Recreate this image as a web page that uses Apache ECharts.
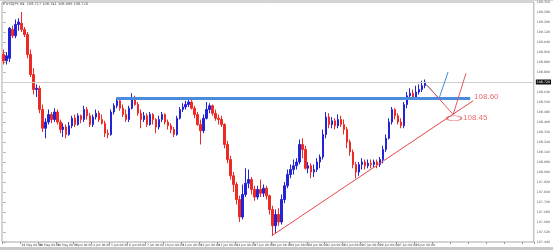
<!DOCTYPE html>
<html>
<head>
<meta charset="utf-8">
<script src="https://cdn.jsdelivr.net/npm/echarts@6/dist/echarts.min.js"></script>
<style>html,body{margin:0;padding:0;background:#fff}#c{width:553px;height:250px}</style>
</head>
<body>
<div id="c"></div>
<script>
// USDJPY H4 candles
const open = [108.94,108.89,108.91,109.14,109.09,109.18,109.19,109.14,109.10,108.94,
108.78,108.66,108.67,108.50,108.35,108.40,108.46,108.42,108.48,108.40,
108.34,108.36,108.30,108.37,108.43,108.38,108.45,108.42,108.50,108.45,
108.38,108.44,108.47,108.42,108.39,108.31,108.30,108.48,108.53,108.57,
108.51,108.46,108.42,108.51,108.58,108.54,108.47,108.42,108.45,108.38,
108.46,108.42,108.36,108.42,108.46,108.40,108.37,108.34,108.30,108.43,
108.50,108.52,108.54,108.56,108.51,108.46,108.38,108.33,108.43,108.50,
108.53,108.47,108.43,108.42,108.38,108.22,108.10,107.97,107.90,107.78,
107.64,107.82,107.91,107.94,107.86,107.80,107.86,107.83,107.87,107.81,
107.70,107.57,107.66,107.60,107.78,107.89,107.98,108.02,108.05,108.08,
108.22,108.18,108.03,108.05,108.00,108.02,108.08,108.12,108.30,108.44,
108.38,108.41,108.37,108.42,108.38,108.34,108.24,108.16,108.06,108.00,
108.06,108.08,108.05,108.07,108.06,108.08,108.06,108.10,108.18,108.27,
108.40,108.50,108.45,108.40,108.37,108.54,108.61,108.63,108.60,108.64,
108.66,108.69];
const close = [108.89,108.93,109.15,109.09,109.18,109.20,109.14,109.10,108.94,108.78,
108.66,108.67,108.50,108.35,108.40,108.46,108.42,108.48,108.40,108.34,
108.36,108.30,108.37,108.43,108.38,108.45,108.42,108.50,108.45,108.38,
108.44,108.47,108.42,108.39,108.31,108.30,108.48,108.53,108.57,108.51,
108.46,108.42,108.51,108.58,108.54,108.47,108.42,108.45,108.38,108.46,
108.42,108.36,108.42,108.46,108.40,108.37,108.34,108.30,108.43,108.50,
108.52,108.54,108.56,108.51,108.46,108.38,108.33,108.43,108.50,108.53,
108.47,108.43,108.42,108.38,108.22,108.10,107.97,107.90,107.78,107.64,
107.82,107.91,107.94,107.86,107.80,107.86,107.83,107.87,107.81,107.70,
107.57,107.66,107.60,107.78,107.89,107.98,108.02,108.05,108.08,108.22,
108.18,108.03,108.05,108.00,108.02,108.08,108.12,108.30,108.44,108.38,
108.41,108.37,108.42,108.38,108.34,108.24,108.16,108.06,108.00,108.06,
108.08,108.05,108.07,108.06,108.08,108.06,108.10,108.18,108.27,108.40,
108.50,108.45,108.40,108.37,108.54,108.61,108.63,108.60,108.64,108.66,
108.69,108.72];
const low = [108.86,108.86,108.88,109.07,109.07,109.13,109.12,109.08,108.91,108.76,
108.62,108.60,108.47,108.32,108.27,108.38,108.39,108.40,108.38,108.31,
108.28,108.27,108.29,108.35,108.36,108.37,108.39,108.40,108.42,108.36,
108.36,108.42,108.40,108.38,108.28,108.27,108.29,108.46,108.51,108.49,
108.44,108.40,108.40,108.50,108.53,108.45,108.35,108.40,108.36,108.37,
108.38,108.31,108.34,108.40,108.38,108.34,108.31,108.28,108.29,108.42,
108.48,108.50,108.52,108.50,108.43,108.37,108.22,108.31,108.42,108.47,
108.45,108.41,108.38,108.36,108.19,108.07,107.94,107.84,107.74,107.60,
107.62,107.80,107.87,107.82,107.77,107.78,107.80,107.80,107.78,107.66,
107.49,107.51,107.57,107.58,107.75,107.87,107.95,107.98,108.02,108.06,
108.11,108.02,107.99,107.95,107.96,108.00,108.03,108.10,108.27,108.35,
108.35,108.34,108.35,108.36,108.30,108.19,108.13,108.03,107.95,107.97,
108.02,108.02,108.03,108.03,108.04,108.03,108.04,108.07,108.16,108.26,
108.38,108.42,108.38,108.35,108.35,108.51,108.58,108.58,108.58,108.62,
108.64,108.67];
const high = [108.98,108.96,109.16,109.17,109.22,109.23,109.28,109.16,109.12,108.98,
108.83,108.70,108.69,108.54,108.43,108.50,108.48,108.51,108.50,108.42,
108.39,108.38,108.40,108.45,108.46,108.47,108.46,108.53,108.52,108.47,
108.46,108.50,108.49,108.46,108.41,108.34,108.50,108.55,108.59,108.58,
108.54,108.50,108.53,108.63,108.61,108.56,108.50,108.48,108.47,108.48,
108.47,108.43,108.45,108.48,108.47,108.42,108.39,108.36,108.45,108.52,
108.55,108.57,108.58,108.59,108.53,108.48,108.42,108.46,108.56,108.55,
108.54,108.50,108.46,108.45,108.39,108.25,108.13,108.00,107.92,107.81,
107.90,108.03,108.02,107.96,107.89,107.89,107.94,107.90,107.89,107.82,
107.73,107.70,107.71,107.82,107.92,108.02,108.06,108.10,108.11,108.26,
108.27,108.21,108.08,108.07,108.06,108.11,108.14,108.34,108.48,108.47,
108.44,108.43,108.46,108.45,108.42,108.36,108.26,108.18,108.08,108.08,
108.11,108.10,108.10,108.10,108.10,108.10,108.12,108.21,108.30,108.43,
108.52,108.51,108.47,108.43,108.56,108.64,108.67,108.66,108.69,108.70,
108.73,108.74];

// time-axis tick labels (one per 6 bars)
const tickLabels = ["28 May 2019","29 May 08:00","30 May 08:00","31 May 08:00","3 Jun 08:00","4 Jun 08:00",
"5 Jun 08:00","6 Jun 08:00","7 Jun 08:00","10 Jun 08:00","11 Jun 08:00","12 Jun 08:00",
"13 Jun 08:00","14 Jun 08:00","17 Jun 08:00","18 Jun 08:00","19 Jun 08:00","20 Jun 08:00",
"21 Jun 08:00","24 Jun 08:00","25 Jun 08:00","26 Jun 08:00","27 Jun 08:00","28 Jun 08:00"];
const barsPerLabel = 6;
const emptyBarsRight = 36;

// price axis
const priceMin = 107.44, priceMax = 109.36, priceStep = 0.08;
const lastPrice = 108.72;

// drawn annotations, in (bar index, price)
const resistanceLine = [[37.8, 108.59], [156.2, 108.59]];
const trendLine = [[89.8, 107.49], [157.2, 108.57]];
const blueArrow = [[141.5, 108.70], [145.8, 108.59], [148.8, 108.80]];
const redArrow = [[141.5, 108.70], [150.5, 108.46], [154.8, 108.79]];
const ellipsePoint = [150.8, 108.43];
const noteTexts = ["108.60", "108.45"];
const notePoints = [[157.5, 108.60], [153.8, 108.43]];

const totalBars = open.length + emptyBarsRight;
const categories = Array.from({length: totalBars}, (_, i) => i);
const candles = open.map((o, i) => [o, close[i], low[i], high[i]]);
while (candles.length < totalBars) candles.push('-');

const chart = echarts.init(document.getElementById('c'), null, {renderer: 'canvas'});
const RED = '#ee2a24', BLUE = '#2323d8', NOTE = '#e2474a';
chart.setOption({
  animation: false,
  backgroundColor: '#fff',
  grid: {left: 2, right: 16, top: 2, bottom: 8, show: true, borderColor: '#a8a8a8', borderWidth: 1},
  graphic: [
    {type: 'rect', shape: {x: 0, y: 247, width: 553, height: 3}, style: {fill: '#c9c9c9'}},
    {type: 'rect', shape: {x: 0, y: 0, width: 553, height: 1}, style: {fill: '#d4d4d4'}},
    {type: 'text', left: 3, top: 2, style: {text: '\u25BE USDJPY,H4  108.717 108.741 108.695 108.720', fontSize: 3.5, fill: '#444', fontFamily: 'DejaVu Sans'}}
  ],
  xAxis: [{
    type: 'category', data: categories, boundaryGap: true,
    axisLine: {show: false},
    axisTick: {show: true, length: 2, interval: barsPerLabel - 1, lineStyle: {color: '#999'}},
    axisLabel: {
      interval: barsPerLabel - 1, fontSize: 3, color: '#444', align: 'left', margin: 2,
      fontFamily: 'DejaVu Sans',
      formatter: (v, idx) => tickLabels[Math.round(idx / barsPerLabel)] || ''
    },
    splitLine: {show: false}
  }, {
    type: 'value', min: -0.5, max: totalBars - 0.5, show: false
  }],
  yAxis: {
    type: 'value', position: 'right', min: priceMin, max: priceMax, interval: priceStep,
    scale: true,
    axisLine: {show: false},
    axisTick: {show: true, length: 2, lineStyle: {color: '#999'}},
    axisLabel: {fontSize: 3.2, color: '#555', margin: 3, fontFamily: 'DejaVu Sans',
      formatter: v => v.toFixed(3)},
    splitLine: {show: false}
  },
  series: [{
    type: 'candlestick', data: candles, barWidth: 2,
    itemStyle: {color: BLUE, color0: RED, borderColor: BLUE, borderColor0: RED, borderWidth: 1},
    markLine: {
      silent: true, symbol: 'none',
      data: [{yAxis: lastPrice}],
      lineStyle: {color: '#cfcfcf', width: 1, type: 'solid'},
      label: {show: true, position: 'end', formatter: lastPrice.toFixed(3), color: '#fff',
        backgroundColor: '#111', fontSize: 3.2, padding: [1, 1], distance: 2, fontFamily: 'DejaVu Sans'}
    }
  }, {
    type: 'lines', coordinateSystem: 'cartesian2d', xAxisIndex: 1, yAxisIndex: 0,
    data: [{coords: resistanceLine}],
    lineStyle: {color: '#4a8bdc', width: 3, opacity: 1}, symbol: 'none', z: 5
  }, {
    type: 'lines', coordinateSystem: 'cartesian2d', xAxisIndex: 1, yAxisIndex: 0,
    data: [{coords: trendLine}],
    lineStyle: {color: '#e8454a', width: 1, opacity: 1}, symbol: 'none', z: 6
  }, {
    type: 'lines', coordinateSystem: 'cartesian2d', xAxisIndex: 1, yAxisIndex: 0, polyline: true,
    data: [{coords: blueArrow}],
    lineStyle: {color: '#3d8fe0', width: 1, opacity: 1}, symbol: ['none', 'arrow'], symbolSize: 5, z: 7
  }, {
    type: 'lines', coordinateSystem: 'cartesian2d', xAxisIndex: 1, yAxisIndex: 0, polyline: true,
    data: [{coords: redArrow}],
    lineStyle: {color: '#e4585c', width: 1, opacity: 1}, symbol: ['none', 'arrow'], symbolSize: 5, z: 7
  }, {
    type: 'scatter', xAxisIndex: 1, yAxisIndex: 0, data: [ellipsePoint],
    symbol: 'circle', symbolSize: [15, 5], z: 8,
    itemStyle: {color: 'rgba(255,255,255,0)', borderColor: NOTE, borderWidth: 1}
  }, {
    type: 'scatter', xAxisIndex: 1, yAxisIndex: 0, z: 9,
    data: notePoints.map((p, i) => ({value: p, name: noteTexts[i]})),
    symbolSize: 0,
    label: {show: true, position: 'right', distance: 0, formatter: p => p.name,
      color: NOTE, fontSize: 8, fontFamily: 'Liberation Sans'}
  }]
});
</script>
</body>
</html>
